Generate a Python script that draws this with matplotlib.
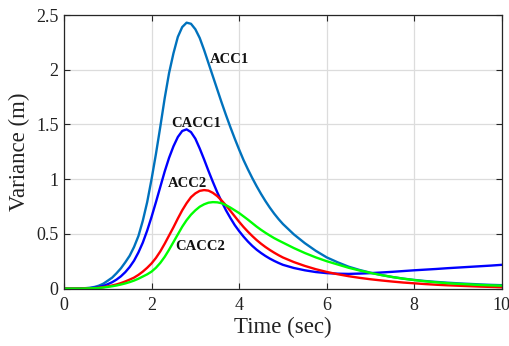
import matplotlib
matplotlib.use("Agg")
import matplotlib.pyplot as plt

# time axis (sec)
time = [0.0, 0.1, 0.2, 0.3, 0.4, 0.5, 0.6, 0.7, 0.8, 0.9,
        1.0, 1.1, 1.2, 1.3, 1.4, 1.5, 1.6, 1.7, 1.8, 1.9,
        2.0, 2.1, 2.2, 2.3, 2.4, 2.5, 2.6, 2.7, 2.8, 2.9,
        3.0, 3.1, 3.2, 3.3, 3.4, 3.5, 3.6, 3.7, 3.8, 3.9,
        4.0, 4.1, 4.2, 4.3, 4.4, 4.5, 4.6, 4.7, 4.8, 4.9,
        5.0, 5.25, 5.5, 5.75, 6.0, 6.25, 6.5, 6.75, 7.0, 7.25,
        7.5, 7.75, 8.0, 8.25, 8.5, 8.75, 9.0, 9.25, 9.5, 9.75, 10.0]

acc1 = [0, 0, 0, 0.001, 0.002, 0.004, 0.008, 0.015, 0.027, 0.045,
        0.072, 0.10, 0.14, 0.185, 0.24, 0.30, 0.38, 0.48, 0.62, 0.79,
        1.0, 1.23, 1.48, 1.74, 1.97, 2.15, 2.30, 2.39, 2.43, 2.42,
        2.37, 2.29, 2.18, 2.06, 1.94, 1.82, 1.70, 1.585, 1.475, 1.37,
        1.27, 1.175, 1.09, 1.01, 0.935, 0.865, 0.80, 0.74, 0.685, 0.635,
        0.59, 0.495, 0.415, 0.345, 0.285, 0.24, 0.2, 0.17, 0.145, 0.124,
        0.106, 0.091, 0.079, 0.069, 0.061, 0.054, 0.048, 0.043, 0.038, 0.034, 0.031]

cacc1 = [0, 0, 0, 0, 0.001, 0.002, 0.004, 0.008, 0.015, 0.025,
         0.04, 0.058, 0.082, 0.112, 0.15, 0.197, 0.255, 0.33, 0.42, 0.53,
         0.655, 0.79, 0.93, 1.07, 1.195, 1.30, 1.385, 1.44, 1.455, 1.43,
         1.37, 1.28, 1.18, 1.075, 0.975, 0.88, 0.795, 0.715, 0.645, 0.58,
         0.525, 0.475, 0.43, 0.39, 0.355, 0.325, 0.298, 0.274, 0.253, 0.234,
         0.217, 0.188, 0.167, 0.151, 0.141, 0.136, 0.134, 0.137, 0.141, 0.147,
         0.153, 0.16, 0.167, 0.173, 0.179, 0.186, 0.192, 0.198, 0.204, 0.21, 0.217]

acc2 = [0, 0, 0, 0, 0, 0.001, 0.002, 0.004, 0.008, 0.013,
        0.02, 0.028, 0.038, 0.05, 0.065, 0.082, 0.10, 0.125, 0.155, 0.19,
        0.23, 0.28, 0.34, 0.41, 0.485, 0.56, 0.64, 0.715, 0.78, 0.835,
        0.87, 0.893, 0.90, 0.895, 0.875, 0.845, 0.805, 0.76, 0.71, 0.66,
        0.61, 0.563, 0.52, 0.48, 0.443, 0.41, 0.38, 0.353, 0.328, 0.305,
        0.284, 0.242, 0.207, 0.177, 0.152, 0.131, 0.113, 0.098, 0.085, 0.074,
        0.064, 0.055, 0.048, 0.041, 0.035, 0.03, 0.026, 0.022, 0.018, 0.015, 0.012]

cacc2 = [0, 0, 0, 0, 0, 0.001, 0.002, 0.003, 0.006, 0.01,
         0.015, 0.021, 0.028, 0.037, 0.047, 0.059, 0.073, 0.09, 0.11, 0.13,
         0.155, 0.19, 0.235, 0.29, 0.355, 0.425, 0.495, 0.565, 0.625, 0.675,
         0.715, 0.748, 0.77, 0.785, 0.79, 0.788, 0.78, 0.762, 0.74, 0.715,
         0.69, 0.66, 0.63, 0.598, 0.566, 0.537, 0.51, 0.485, 0.461, 0.44,
         0.42, 0.37, 0.325, 0.285, 0.25, 0.22, 0.19, 0.165, 0.143, 0.123,
         0.105, 0.09, 0.077, 0.066, 0.057, 0.049, 0.043, 0.038, 0.033, 0.029, 0.026]

xticks = [0, 2, 4, 6, 8, 10]
yticks = [0, 0.5, 1, 1.5, 2, 2.5]
ytick_labels = ["0", "0.5", "1", "1.5", "2", "2.5"]

plt.rcParams["font.family"] = ["Liberation Serif", "DejaVu Serif"]

fig = plt.figure(figsize=(5.09, 3.46), dpi=100)
ax = fig.add_axes([0.1257, 0.166, 0.8603, 0.7906])

ax.plot(time, acc1, color="#0072BD", lw=1.7)
ax.plot(time, cacc1, color="#0000FF", lw=1.7)
ax.plot(time, acc2, color="#FF0000", lw=1.7)
ax.plot(time, cacc2, color="#00FF00", lw=1.7)

# curve labels
lab = dict(fontsize=10.5, fontweight="bold", va="center", ha="left", color="#111111")
ax.text(3.33, 2.09, "ACC1", **lab)
ax.text(2.44, 1.51, "CACC1", **lab)
ax.text(2.38, 0.96, "ACC2", **lab)
ax.text(2.53, 0.38, "CACC2", **lab)

ax.set_xlim(0, 10)
ax.set_ylim(0, 2.5)
ax.set_xticks(xticks)
ax.set_yticks(yticks)
ax.set_yticklabels(ytick_labels)
ax.grid(True, color="#dcdcdc", lw=0.9)
ax.set_axisbelow(True)
ax.tick_params(direction="in", top=True, right=True, length=4, width=0.8,
               labelsize=13, color="#262626", labelcolor="#222222")
ax.tick_params(axis="x", pad=6)
ax.tick_params(axis="y", pad=4)
for s in ax.spines.values():
    s.set_color("#262626")
    s.set_linewidth(0.9)

ax.set_xlabel("Time (sec)", fontsize=16.5, color="#222222", labelpad=2)
ax.set_ylabel("Variance (m)", fontsize=16.5, color="#222222", labelpad=4)

fig.savefig("out.png", dpi=100, facecolor="white")
